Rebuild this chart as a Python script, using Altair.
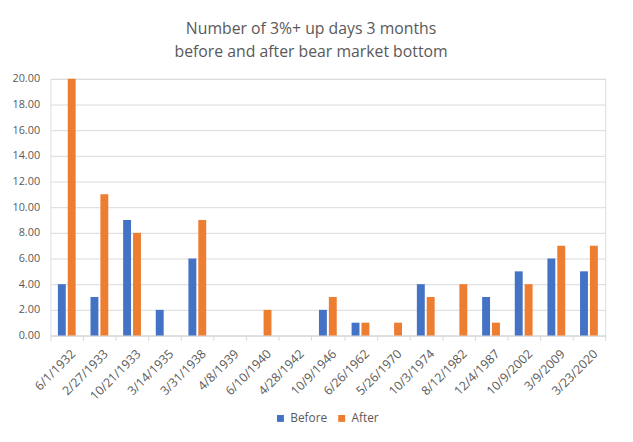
import altair as alt
import pandas as pd

dates = ["6/1/1932", "2/27/1933", "10/21/1933", "3/14/1935", "3/31/1938", "4/8/1939",
         "6/10/1940", "4/28/1942", "10/9/1946", "6/26/1962", "5/26/1970", "10/3/1974",
         "8/12/1982", "12/4/1987", "10/9/2002", "3/9/2009", "3/23/2020"]
before = [4, 3, 9, 2, 6, 0, 0, 0, 2, 1, 0, 4, 0, 3, 5, 6, 5]
after = [20, 11, 8, 0, 9, 0, 2, 0, 3, 1, 1, 3, 4, 1, 4, 7, 7]
series = ["Before", "After"]
colors = ["#4472C4", "#ED7D31"]

rows = []
for d, b, a in zip(dates, before, after):
    rows.append({"date": d, "series": "Before", "value": b})
    rows.append({"date": d, "series": "After", "value": a})
df = pd.DataFrame(rows)

FONT = "Open Sans"
GREY = "#595959"
LINE = "#D9D9D9"

chart = alt.Chart(df).mark_bar().encode(
    x=alt.X("date:N", sort=dates, title=None,
            scale=alt.Scale(paddingInner=0, paddingOuter=0),
            axis=alt.Axis(labelAngle=-45, labelAlign="right", labelBaseline="top",
                          labelPadding=7, labelOffset=2, tickBand="extent", tickSize=5,
                          tickColor=LINE, domainColor=LINE, labelColor=GREY,
                          labelFont=FONT, labelFontSize=12.5, grid=False,
                          labelOverlap=False)),
    xOffset=alt.XOffset("series:N", sort=series,
                        scale=alt.Scale(paddingInner=0.2, paddingOuter=0.75)),
    y=alt.Y("value:Q", title=None,
            scale=alt.Scale(domain=[0, 20], nice=False),
            axis=alt.Axis(values=list(range(0, 21, 2)), format=".2f", domain=False,
                          ticks=False, labelPadding=11, gridColor=LINE,
                          labelColor=GREY, labelFont=FONT, labelFontSize=11)),
    color=alt.Color("series:N", sort=series,
                    scale=alt.Scale(domain=series, range=colors),
                    legend=alt.Legend(title=None, orient="none", direction="horizontal",
                                      legendX=227, legendY=338, symbolType="square",
                                      symbolSize=49, labelFont=FONT, labelFontSize=12,
                                      labelColor=GREY, columnPadding=8, padding=0,
                                      symbolStrokeWidth=0, labelOffset=4)),
).properties(
    width=562,
    height=260,
    padding={"left": 43, "top": 69, "right": 20, "bottom": 97},
    autosize=alt.AutoSizeParams(type="none"),
    title=alt.TitleParams(["Number of 3%+ up days 3 months",
                           "before and after bear market bottom"],
                          font=FONT, fontSize=16, fontWeight="normal", color=GREY,
                          anchor="middle", offset=13, lineHeight=23, dx=-17),
).configure_view(stroke=None).configure(background="white")

chart.save("out.html", embed_options={"renderer": "svg", "actions": False})
